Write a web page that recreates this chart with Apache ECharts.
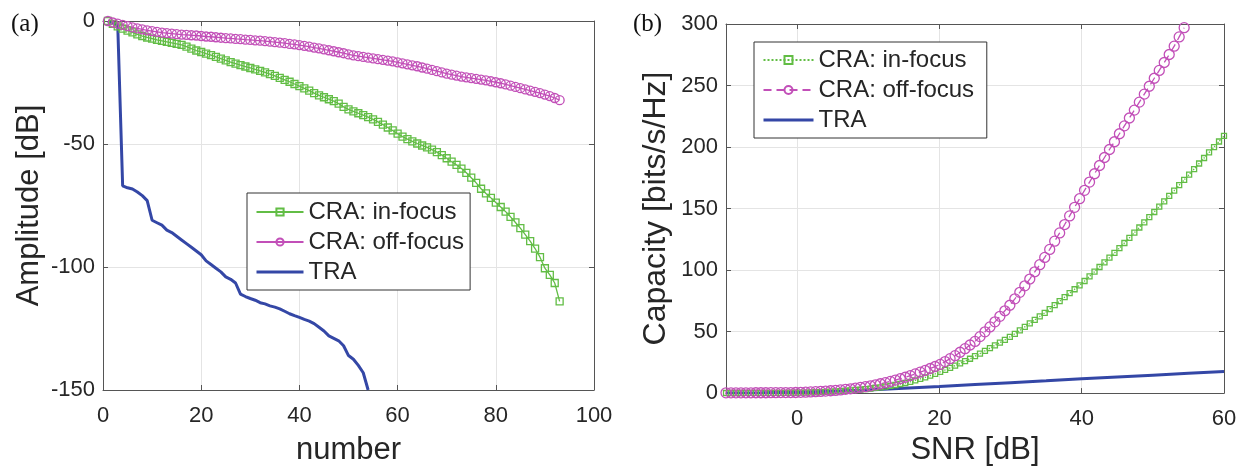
<!DOCTYPE html>
<html>
<head>
<meta charset="utf-8">
<script src="https://cdn.jsdelivr.net/npm/echarts@6/dist/echarts.min.js"></script>
<style>
html,body{margin:0;padding:0;background:#fff;}
#chart{width:1247px;height:471px;}
</style>
</head>
<body>
<div id="chart"></div>
<script>
// ---- Panel (a): amplitude vs number ----
const ampInFocus = [0,-1.2,-2.2,-3.1,-3.9,-4.6,-5.4,-6.1,-6.7,-7.2,
  -7.7,-8.1,-8.5,-8.9,-9.3,-9.7,-10.4,-11.2,-12.0,-12.6,
  -13.3,-13.9,-14.6,-15.3,-16.0,-16.7,-17.3,-17.9,-18.5,-19.1,
  -19.7,-20.3,-20.9,-21.6,-22.3,-23.1,-23.9,-24.7,-25.6,-26.5,
  -27.4,-28.3,-29.3,-30.2,-31.0,-31.8,-32.6,-33.6,-34.9,-35.9,
  -36.7,-37.5,-38.3,-39.1,-40.0,-41.0,-42.1,-43.3,-44.5,-45.8,
  -47.0,-48.0,-48.9,-49.8,-50.6,-51.4,-52.3,-53.3,-54.5,-55.8,
  -57.2,-58.5,-60.0,-61.7,-63.7,-65.8,-68.2,-70.1,-71.9,-73.8,
  -75.6,-77.5,-79.6,-81.9,-84.2,-86.8,-89.5,-92.5,-96.0,-100.5,
  -103.2,-106.5,-114];
const ampOffFocus = [0,-0.6,-1.1,-1.6,-2.1,-2.6,-3.0,-3.4,-3.8,-4.1,
  -4.4,-4.7,-4.9,-5.1,-5.3,-5.5,-5.6,-5.8,-5.9,-6.1,
  -6.3,-6.4,-6.6,-6.8,-7.0,-7.1,-7.3,-7.4,-7.6,-7.7,
  -7.9,-8.0,-8.2,-8.4,-8.6,-8.8,-9.0,-9.3,-9.5,-9.8,
  -10.1,-10.4,-10.8,-11.1,-11.5,-11.9,-12.3,-12.7,-13.1,-13.6,
  -14.0,-14.3,-14.6,-14.9,-15.2,-15.5,-15.8,-16.1,-16.4,-16.8,
  -17.2,-17.6,-18.0,-18.4,-18.9,-19.4,-19.9,-20.4,-20.9,-21.4,
  -21.8,-22.2,-22.6,-22.9,-23.2,-23.5,-23.8,-24.1,-24.5,-24.9,
  -25.3,-25.8,-26.3,-26.8,-27.3,-27.8,-28.3,-28.8,-29.3,-29.9,
  -30.5,-31.3,-32.2];
const ampTRA = [0,-0.8,-1.6,-67,-67.8,-68.3,-69.5,-71,-73,-81,
  -82,-83,-85,-86,-87.5,-89,-90.5,-92,-93.5,-95,
  -97.5,-99,-100.5,-102,-104,-105,-106.5,-111,-112,-112.8,
  -113.5,-114.5,-115,-115.8,-116.3,-117,-118,-119,-119.8,-120.5,
  -121.3,-122,-123,-124.5,-126,-128,-129,-130,-132,-136,
  -137.5,-140,-143,-150];

// ---- Panel (b): capacity vs SNR ----
const snrDb = [-10,-9.3,-8.6,-7.9,-7.2,-6.5,-5.8,-5.1,-4.4,-3.7,
  -3.0,-2.3,-1.6,-0.9,-0.2,0.5,1.2,1.9,2.6,3.3,
  4.0,4.7,5.4,6.1,6.8,7.5,8.2,8.9,9.6,10.3,
  11.0,11.7,12.4,13.1,13.8,14.5,15.2,15.9,16.6,17.3,
  18.0,18.7,19.4,20.1,20.8,21.5,22.2,22.9,23.6,24.3,
  25.0,25.7,26.4,27.1,27.8,28.5,29.2,29.9,30.6,31.3,
  32.0,32.7,33.4,34.1,34.8,35.5,36.2,36.9,37.6,38.3,
  39.0,39.7,40.4,41.1,41.8,42.5,43.2,43.9,44.6,45.3,
  46.0,46.7,47.4,48.1,48.8,49.5,50.2,50.9,51.6,52.3,
  53.0,53.7,54.4,55.1,55.8,56.5,57.2,57.9,58.6,59.3,
  60.0];
const capInFocus = [0.1,0.1,0.1,0.1,0.12,0.13,0.14,0.15,0.17,0.19,
  0.2,0.22,0.24,0.27,0.3,0.35,0.45,0.55,0.7,0.85,
  1.05,1.2,1.4,1.65,1.9,2.2,2.6,2.9,3.3,3.7,
  4.2,4.7,5.3,5.9,6.6,7.4,8.2,9.2,10.3,11.5,
  12.8,14.2,15.6,17.2,18.8,20.5,22.3,24.1,26.0,27.9,
  30.0,32.1,34.3,36.5,38.8,41.0,43.3,45.7,48.2,51.0,
  53.8,56.6,59.5,62.3,65.2,68.3,71.5,74.7,78.0,81.2,
  84.4,87.6,91.1,94.9,98.7,102.5,106.3,110.1,113.9,117.8,
  122,126.2,130.4,134.6,138.8,143,147.2,151.6,155.9,160.3,
  164.6,169,173.3,177.6,182.1,186.6,191.1,195.6,200.0,204.5,
  209];
const capOffFocus = [0.2,0.2,0.2,0.2,0.25,0.25,0.3,0.3,0.3,0.35,
  0.35,0.4,0.4,0.45,0.5,0.6,0.75,0.95,1.15,1.35,
  1.65,1.9,2.2,2.6,3.1,3.5,4.1,4.7,5.2,5.9,
  6.7,7.6,8.5,9.5,10.6,11.7,12.9,14.2,15.6,17.0,
  18.4,20.0,21.6,23.3,25.6,28.0,30.4,33.2,36.1,39.1,
  42,45.9,49.8,53.8,57.9,62.4,66.9,71.4,76.6,81.9,
  87.2,92.7,98.6,104.4,110.3,116.8,123.5,130.2,137,144,
  151,158,164.8,171.5,178.3,185,191.5,198,204.3,210.8,
  217.2,223.6,230,236.5,243,249.4,255.9,262.3,268.7,275.2,
  282,289.5,297];
const snrTraDb = [-10,-5,0,5,10,15,20,25,30,35,40,45,50,55,60];
const capTRA = [0.1,0.3,0.8,1.6,2.6,4.0,5.3,6.9,8.5,10.0,11.6,13.1,14.6,16.1,17.6];

const xTicksA = [0,20,40,60,80,100];
const yTicksA = [0,-50,-100,-150];
const xTicksB = [0,20,40,60];
const yTicksB = [0,50,100,150,200,250,300];

const names = ['CRA: in-focus','CRA: off-focus','TRA'];
const namesB = names.map(n => n + ' ');

const GREEN = '#62bd45', MAGENTA = '#c24fb8', BLUE = '#3447a6';
const FRAME = '#555555', GRID = '#e4e4e4', TXT = '#262626';
const FONT = 'Liberation Sans';

const pairs = (xs, ys) => ys.map((v, i) => [xs[i], v]);
const idx = ys => ys.map((v, i) => [i + 1, v]);

function xAx(gi, pos, min, max, ticks, labels) {
  return {
    type: 'value', gridIndex: gi, position: pos, min: min, max: max,
    axisLine: {show: true, onZero: false, lineStyle: {color: FRAME, width: 1}},
    axisTick: {show: true, inside: true, length: 5, customValues: ticks, lineStyle: {color: FRAME}},
    axisLabel: {show: labels, customValues: ticks, color: TXT, fontFamily: FONT, fontSize: 22, margin: 15},
    splitLine: {show: labels, lineStyle: {color: GRID, width: 1}}
  };
}
function yAx(gi, pos, min, max, ticks, labels) {
  return {
    type: 'value', gridIndex: gi, position: pos, min: min, max: max,
    axisLine: {show: true, onZero: false, lineStyle: {color: FRAME, width: 1}},
    axisTick: {show: true, inside: true, length: 5, customValues: ticks, lineStyle: {color: FRAME}},
    axisLabel: {show: labels, customValues: ticks, color: TXT, fontFamily: FONT, fontSize: 22, margin: 8},
    splitLine: {show: labels, lineStyle: {color: GRID, width: 1}}
  };
}

const xa0 = xAx(0, 'bottom', 0, 100, xTicksA, true);
xa0.name = 'number'; xa0.nameLocation = 'middle'; xa0.nameGap = 45;
xa0.nameTextStyle = {color: TXT, fontFamily: FONT, fontSize: 31};
const ya0 = yAx(0, 'left', -150, 0, yTicksA, true);
ya0.name = 'Amplitude [dB]'; ya0.nameLocation = 'middle'; ya0.nameGap = 58;
ya0.nameTextStyle = {color: TXT, fontFamily: FONT, fontSize: 31};
const xa2 = xAx(1, 'bottom', -10, 60, xTicksB, true);
xa2.name = 'SNR [dB]'; xa2.nameLocation = 'middle'; xa2.nameGap = 40;
xa2.nameTextStyle = {color: TXT, fontFamily: FONT, fontSize: 31};
const ya2 = yAx(1, 'left', 0, 300, yTicksB, true);
ya2.name = 'Capacity [bits/s/Hz]'; ya2.nameLocation = 'middle'; ya2.nameGap = 54;
ya2.nameTextStyle = {color: TXT, fontFamily: FONT, fontSize: 32};

const legendText = {color: TXT, fontFamily: FONT, fontSize: 24, lineHeight: 30};
const noSym = {color: 'rgba(0,0,0,0)', borderColor: 'rgba(0,0,0,0)', borderWidth: 0, opacity: 0};
const traLegendLine = {color: BLUE, width: 3};

const option = {
  animation: false,
  backgroundColor: '#ffffff',
  grid: [
    {left: 103, top: 21, width: 491, height: 370},
    {left: 726, top: 24, width: 498, height: 370}
  ],
  xAxis: [xa0, xAx(0, 'top', 0, 100, xTicksA, false), xa2, xAx(1, 'top', -10, 60, xTicksB, false)],
  yAxis: [ya0, yAx(0, 'right', -150, 0, yTicksA, false), ya2, yAx(1, 'right', 0, 300, yTicksB, false)],
  legend: [
    {data: [names[0], names[1], {name: names[2], itemStyle: noSym, lineStyle: traLegendLine}],
     orient: 'vertical', left: 247, top: 193, itemWidth: 47, itemHeight: 9, itemGap: 0,
     padding: [4, 6, 3, 8], borderColor: '#333', borderWidth: 1, backgroundColor: '#fff',
     textStyle: legendText, selectedMode: false},
    {data: [namesB[0], namesB[1], {name: namesB[2], itemStyle: noSym, lineStyle: traLegendLine}],
     orient: 'vertical', left: 754, top: 42, itemWidth: 50, itemHeight: 10, itemGap: 0,
     padding: [3, 6, 3, 8], borderColor: '#333', borderWidth: 1, backgroundColor: '#fff',
     textStyle: legendText, selectedMode: false}
  ],
  graphic: [
    {type: 'text', left: 11, top: 12, style: {text: '(a)', font: '25px "Liberation Serif"', fill: '#111'}},
    {type: 'text', left: 633, top: 12, style: {text: '(b)', font: '25px "Liberation Serif"', fill: '#111'}}
  ],
  series: [
    {name: names[0], type: 'line', xAxisIndex: 0, yAxisIndex: 0, data: idx(ampInFocus),
     symbol: 'rect', symbolSize: 7, showAllSymbol: true,
     itemStyle: {color: 'rgba(255,255,255,0)', borderColor: GREEN, borderWidth: 1.3},
     lineStyle: {color: GREEN, width: 1.3}},
    {name: names[1], type: 'line', xAxisIndex: 0, yAxisIndex: 0, data: idx(ampOffFocus),
     symbol: 'circle', symbolSize: 9, showAllSymbol: true,
     itemStyle: {color: 'rgba(255,255,255,0)', borderColor: MAGENTA, borderWidth: 1.3},
     lineStyle: {color: MAGENTA, width: 1.3}},
    {name: names[2], type: 'line', xAxisIndex: 0, yAxisIndex: 0, data: idx(ampTRA),
     symbol: 'none', lineStyle: {color: BLUE, width: 3}, itemStyle: {color: BLUE}},

    {name: namesB[0], type: 'line', xAxisIndex: 2, yAxisIndex: 2, data: pairs(snrDb, capInFocus),
     symbol: 'rect', symbolSize: 5, showAllSymbol: true,
     itemStyle: {color: 'rgba(255,255,255,0)', borderColor: GREEN, borderWidth: 1.3},
     lineStyle: {color: GREEN, width: 1.3, type: 'dotted'}},
    {name: namesB[1], type: 'line', xAxisIndex: 2, yAxisIndex: 2, data: pairs(snrDb, capOffFocus),
     symbol: 'circle', symbolSize: 10, showAllSymbol: true,
     itemStyle: {color: 'rgba(255,255,255,0)', borderColor: MAGENTA, borderWidth: 1.3},
     lineStyle: {color: MAGENTA, width: 1.3, type: [8, 5]}},
    {name: namesB[2], type: 'line', xAxisIndex: 2, yAxisIndex: 2, data: pairs(snrTraDb, capTRA),
     symbol: 'none', lineStyle: {color: BLUE, width: 3}, itemStyle: {color: BLUE}}
  ]
};
const chart = echarts.init(document.getElementById('chart'), null, {renderer: 'canvas'});
chart.setOption(option);
</script>
</body>
</html>
